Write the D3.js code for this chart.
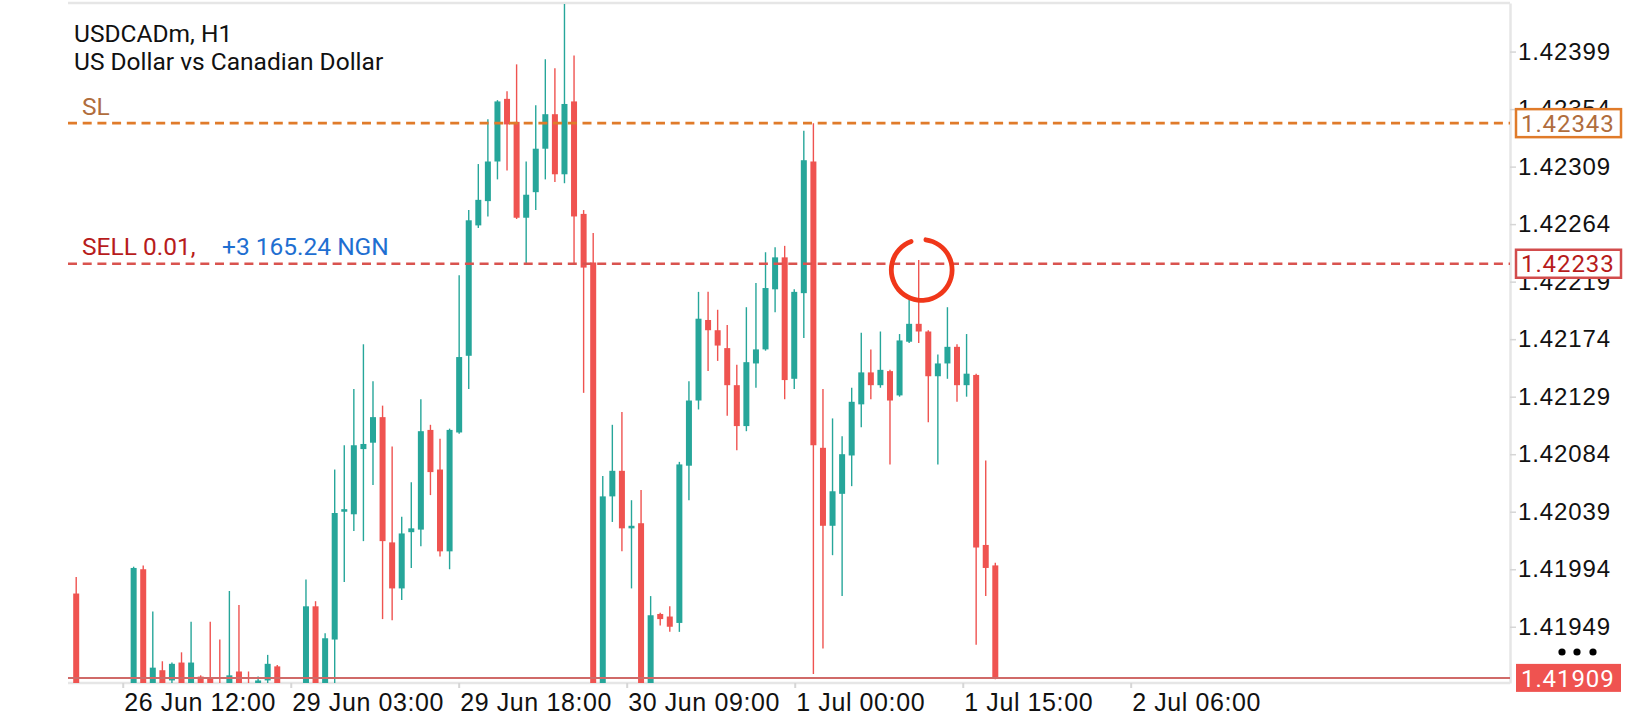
<!DOCTYPE html>
<html>
<head>
<meta charset="utf-8">
<script src="https://cdn.jsdelivr.net/npm/d3@7"></script>
<style>
  body { margin: 0; background: #fff; }
  svg { display: block; font-family: Roboto, "Noto Sans", sans-serif; }
</style>
</head>
<body>
<svg id="chart" width="1640" height="720"></svg>
<script>
// H1 bars, USDCADm (bar 0 = first bar on screen)
const opens = [
  1.41975, 1.41880, 1.41868, 1.41878, 1.41866, 1.41872, 1.41884, 1.41994, 1.41895, 1.41915,
  1.41907, 1.41921, 1.41898, 1.41910, 1.41909, 1.41900, 1.41899, 1.41914, 1.41902, 1.41903,
  1.41907, 1.41918, 1.41896, 1.41885, 1.41893, 1.41965, 1.41897, 1.41939, 1.42039, 1.42037,
  1.42088, 1.42093, 1.42113, 1.42015, 1.41979, 1.42023, 1.42025, 1.42103, 1.42072, 1.42008,
  1.42101, 1.42161, 1.42263, 1.42282, 1.42313, 1.42362, 1.42344, 1.42269, 1.42289, 1.42323,
  1.42350, 1.42303, 1.42360, 1.42272, 1.42234, 1.41886, 1.42051, 1.42071, 1.42026, 1.42030,
  1.41890, 1.41959, 1.41957, 1.41952, 1.42075, 1.42126, 1.42189, 1.42181, 1.42167, 1.42138,
  1.42106, 1.42155, 1.42166, 1.42213, 1.42238, 1.42143, 1.42210, 1.42313, 1.42089, 1.42028,
  1.42053, 1.42083, 1.42123, 1.42148, 1.42138, 1.42149, 1.42130, 1.42172, 1.42186, 1.42180,
  1.42145, 1.42155, 1.42168, 1.42138, 1.42146, 1.42013, 1.41997
];
const highs = [
  1.41988, 1.41892, 1.41885, 1.41890, 1.41880, 1.41896, 1.41996, 1.41997, 1.41961, 1.41922,
  1.41921, 1.41929, 1.41953, 1.41911, 1.41953, 1.41939, 1.41977, 1.41966, 1.41914, 1.41910,
  1.41927, 1.41919, 1.41902, 1.41899, 1.41986, 1.41969, 1.41944, 1.42072, 1.42091, 1.42135,
  1.42170, 1.42141, 1.42122, 1.42090, 1.42035, 1.42062, 1.42127, 1.42107, 1.42096, 1.42104,
  1.42224, 1.42275, 1.42311, 1.42346, 1.42361, 1.42368, 1.42389, 1.42313, 1.42357, 1.42393,
  1.42386, 1.42437, 1.42396, 1.42275, 1.42257, 1.42067, 1.42107, 1.42117, 1.42048, 1.42056,
  1.41973, 1.41960, 1.41965, 1.42078, 1.42141, 1.42211, 1.42211, 1.42197, 1.42185, 1.42154,
  1.42199, 1.42218, 1.42242, 1.42246, 1.42247, 1.42213, 1.42337, 1.42343, 1.42135, 1.42112,
  1.42098, 1.42136, 1.42179, 1.42166, 1.42180, 1.42150, 1.42178, 1.42205, 1.42236, 1.42181,
  1.42162, 1.42199, 1.42170, 1.42178, 1.42147, 1.42079, 1.41999
];
const lows = [
  1.41872, 1.41860, 1.41858, 1.41862, 1.41850, 1.41865, 1.41878, 1.41880, 1.41890, 1.41896,
  1.41903, 1.41893, 1.41893, 1.41895, 1.41893, 1.41890, 1.41894, 1.41892, 1.41893, 1.41900,
  1.41904, 1.41890, 1.41878, 1.41870, 1.41888, 1.41890, 1.41892, 1.41900, 1.41984, 1.42024,
  1.42016, 1.42060, 1.41955, 1.41954, 1.41970, 1.41995, 1.42012, 1.42052, 1.42004, 1.41994,
  1.42100, 1.42135, 1.42261, 1.42270, 1.42299, 1.42306, 1.42268, 1.42232, 1.42275, 1.42299,
  1.42297, 1.42296, 1.42233, 1.42132, 1.41872, 1.41880, 1.42031, 1.42008, 1.41979, 1.41885,
  1.41882, 1.41950, 1.41945, 1.41945, 1.42048, 1.42119, 1.42149, 1.42157, 1.42114, 1.42087,
  1.42102, 1.42136, 1.42165, 1.42195, 1.42127, 1.42135, 1.42175, 1.41912, 1.41932, 1.42005,
  1.41973, 1.42059, 1.42105, 1.42127, 1.42136, 1.42076, 1.42129, 1.42171, 1.42171, 1.42109,
  1.42076, 1.42143, 1.42125, 1.42129, 1.41935, 1.41973, 1.41908
];
const closes = [
  1.41880, 1.41868, 1.41878, 1.41866, 1.41872, 1.41884, 1.41995, 1.41885, 1.41917, 1.41900,
  1.41920, 1.41898, 1.41921, 1.41900, 1.41898, 1.41895, 1.41911, 1.41897, 1.41898, 1.41907,
  1.41920, 1.41896, 1.41885, 1.41892, 1.41965, 1.41895, 1.41940, 1.42038, 1.42041, 1.42091,
  1.42092, 1.42113, 1.42016, 1.41979, 1.42022, 1.42026, 1.42102, 1.42070, 1.42008, 1.42103,
  1.42160, 1.42267, 1.42283, 1.42313, 1.42360, 1.42342, 1.42269, 1.42287, 1.42323, 1.42350,
  1.42303, 1.42358, 1.42270, 1.42230, 1.41884, 1.42051, 1.42071, 1.42026, 1.42028, 1.41890,
  1.41958, 1.41955, 1.41949, 1.42076, 1.42126, 1.42190, 1.42181, 1.42169, 1.42138, 1.42106,
  1.42156, 1.42166, 1.42214, 1.42238, 1.42142, 1.42211, 1.42314, 1.42091, 1.42028, 1.42055,
  1.42084, 1.42125, 1.42148, 1.42138, 1.42150, 1.42126, 1.42173, 1.42186, 1.42180, 1.42145,
  1.42155, 1.42168, 1.42138, 1.42147, 1.42011, 1.41995, 1.41909
];

const priceTicks = [1.42399, 1.42354, 1.42309, 1.42264, 1.42219, 1.42174, 1.42129,
                    1.42084, 1.42039, 1.41994, 1.41949];
// time labels sit at fixed spacing, measured in bar units
const timeTickPos = [4.86, 22.41, 39.95, 57.5, 75.05, 92.6, 110.14];
const timeTickLabels = ["26 Jun 12:00", "29 Jun 03:00", "29 Jun 18:00", "30 Jun 09:00",
                        "1 Jul 00:00", "1 Jul 15:00", "2 Jul 06:00"];

const slPrice = 1.42343;
const entryPrice = 1.42233;
const bidPrice = 1.41909;

const bars = opens.map((o, i) => ({ i, o, h: highs[i], l: lows[i], c: closes[i] }));

const plot = { left: 68, right: 1510, top: 3, bottom: 683 };
const upColor = "#26a69a", downColor = "#ef5350";

const svg = d3.select("#chart");

const x = d3.scaleLinear().domain([0, 96]).range([76.2, 995.3]);
const y = d3.scaleLinear().domain([1.41905, 1.42437]).range([plot.bottom, plot.top]);

svg.append("defs").append("clipPath").attr("id", "plotclip")
  .append("rect")
  .attr("x", plot.left).attr("y", plot.top + 1)
  .attr("width", plot.right - plot.left).attr("height", plot.bottom - plot.top - 1);

// frame
svg.append("line")
  .attr("x1", plot.left).attr("x2", plot.right)
  .attr("y1", plot.top).attr("y2", plot.top)
  .attr("stroke", "#e6e6e6").attr("stroke-width", 2.5);
svg.append("line")
  .attr("x1", plot.left).attr("x2", plot.right)
  .attr("y1", plot.bottom).attr("y2", plot.bottom)
  .attr("stroke", "#e6e6e6").attr("stroke-width", 2.5);

// price axis
const yAxis = svg.append("g")
  .attr("transform", `translate(${plot.right},0)`)
  .call(d3.axisRight(y).tickValues(priceTicks).tickSize(6).tickSizeOuter(0)
    .tickPadding(2).tickFormat(d3.format(".5f")));
yAxis.select(".domain").attr("stroke", "#e6e6e6").attr("stroke-width", 2.5);
yAxis.selectAll(".tick line").attr("stroke", "#d6d6d6").attr("stroke-width", 1.5);
yAxis.selectAll(".tick text")
  .attr("fill", "#111").style("font-size", "24px").style("letter-spacing", "0.9px");

// time axis
const xAxis = svg.append("g")
  .attr("transform", `translate(0,${plot.bottom})`)
  .call(d3.axisBottom(x).tickValues(timeTickPos).tickSize(5).tickPadding(5)
    .tickFormat((d, i) => timeTickLabels[i]));
xAxis.select(".domain").remove();
xAxis.selectAll(".tick line").attr("stroke", "#d6d6d6").attr("stroke-width", 2);
xAxis.selectAll(".tick text")
  .attr("text-anchor", "start").attr("x", 1)
  .attr("fill", "#111").style("font-size", "25px").style("letter-spacing", "0.6px");

// candles
const candles = svg.append("g").attr("clip-path", "url(#plotclip)");

const bar = candles.selectAll("g.bar")
  .data(bars)
  .enter()
  .append("g")
  .attr("class", "bar");

bar.append("line")
  .attr("x1", d => x(d.i)).attr("x2", d => x(d.i))
  .attr("y1", d => y(d.h)).attr("y2", d => y(d.l))
  .attr("stroke", d => d.c >= d.o ? upColor : downColor)
  .attr("stroke-width", 1.4);

bar.append("rect")
  .attr("x", d => x(d.i) - 3)
  .attr("width", 6)
  .attr("y", d => y(Math.max(d.o, d.c)))
  .attr("height", d => Math.max(1.5, Math.abs(y(d.o) - y(d.c))))
  .attr("fill", d => d.c >= d.o ? upColor : downColor);

// order lines
function levelLine(price, color, width) {
  svg.append("line")
    .attr("x1", plot.left).attr("x2", plot.right)
    .attr("y1", y(price)).attr("y2", y(price))
    .attr("stroke", color).attr("stroke-width", width)
    .attr("stroke-dasharray", "9 5.7");
}
levelLine(slPrice, "#e07b2a", 2.6);
levelLine(entryPrice, "#d9534f", 2.4);

svg.append("line")
  .attr("x1", plot.left).attr("x2", plot.right)
  .attr("y1", y(bidPrice)).attr("y2", y(bidPrice))
  .attr("stroke", "#d06a68").attr("stroke-width", 2);

// price boxes on the axis
function priceBox(price, stroke, fill, textColor) {
  const cy = y(price);
  svg.append("rect")
    .attr("x", 1516).attr("y", cy - 14)
    .attr("width", 105).attr("height", 28)
    .attr("fill", fill)
    .attr("stroke", stroke).attr("stroke-width", stroke === "none" ? 0 : 2.5);
  svg.append("text")
    .attr("x", 1521).attr("y", cy).attr("dy", "0.36em")
    .attr("fill", textColor)
    .style("font-size", "24px").style("letter-spacing", "0.9px")
    .text(d3.format(".5f")(price));
}
priceBox(slPrice, "#e07b2a", "#fff", "#b06d3d");
priceBox(entryPrice, "#d24c4c", "#fff", "#b71c1c");
priceBox(bidPrice, "none", "#ef5350", "#fff");

// menu dots
svg.append("g").selectAll("circle")
  .data([1562, 1577, 1593])
  .enter()
  .append("circle")
  .attr("cx", d => d).attr("cy", 652).attr("r", 3.6)
  .attr("fill", "#000");

// header texts
svg.append("text").attr("x", 74).attr("y", 42)
  .attr("fill", "#111").style("font-size", "24.5px").text("USDCADm, H1");
svg.append("text").attr("x", 74).attr("y", 70)
  .attr("fill", "#111").style("font-size", "24.5px").text("US Dollar vs Canadian Dollar");

svg.append("text").attr("x", 82).attr("y", y(slPrice) - 8)
  .attr("fill", "#b06d3d").style("font-size", "24.5px").text("SL");

const orderLabel = svg.append("text").attr("x", 82).attr("y", y(entryPrice) - 9)
  .style("font-size", "24.5px");
orderLabel.append("tspan").attr("fill", "#b71c1c").text("SELL 0.01,");
orderLabel.append("tspan").attr("x", 222).attr("fill", "#1f6fd1").text("+3 165.24 NGN");

// hand drawn ring around the wick that touched the entry
const ring = d3.arc().innerRadius(28).outerRadius(32.8)
  .startAngle(0.06).endAngle(2 * Math.PI - 0.28).cornerRadius(2.2);
svg.append("path")
  .attr("transform", `translate(${x(88) + 3},${y(highs[88]) + 10})`)
  .attr("d", ring())
  .attr("fill", "#f0371a");
</script>
</body>
</html>
